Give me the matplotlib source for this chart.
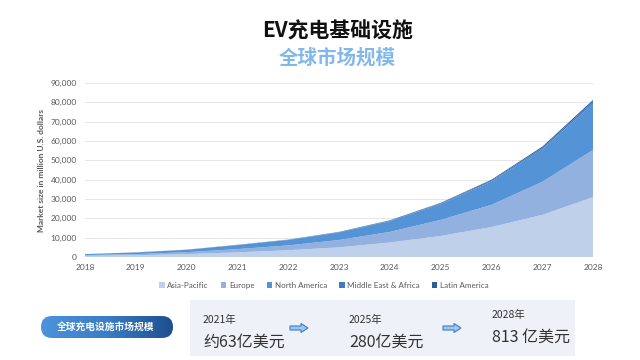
import matplotlib.pyplot as plt
import matplotlib.patches as mpatches
from matplotlib.patches import FancyBboxPatch
from matplotlib.colors import LinearSegmentedColormap
import numpy as np

plt.rcParams['font.family'] = ['Noto Sans CJK SC', 'DejaVu Sans']

# data (million USD)
years = [2018, 2019, 2020, 2021, 2022, 2023, 2024, 2025, 2026, 2027, 2028]
asia_pacific = [600, 900, 1500, 2400, 3500, 5000, 7500, 10900, 15500, 21800, 31000]
europe = [400, 600, 1000, 1700, 2500, 3800, 5500, 8300, 11500, 17100, 24400]
north_america = [465, 845, 1210, 2060, 2790, 3900, 5560, 8150, 12030, 16800, 24000]
middle_east_africa = [20, 30, 50, 80, 120, 170, 250, 370, 550, 800, 1100]
latin_america = [15, 25, 40, 60, 90, 130, 190, 280, 420, 600, 800]
region_names = ['Asia-Pacific', 'Europe', 'North America', 'Middle East & Africa', 'Latin America']
region_colors = ['#bfd0ea', '#93b1de', '#5393d6', '#3d7cc4', '#2b5d99']

yticks = np.arange(0, 90001, 10000)

summary_years = ['2021年', '2025年', '2028年']
summary_values = ['约63亿美元', '280亿美元', '813 亿美元']

fig = plt.figure(figsize=(6.4, 3.6), dpi=100)

# titles
fig.text(0.527, 0.915, 'EV充电基础设施', ha='center', va='center', fontsize=15,
         fontweight='bold', color='#111111')
fig.text(0.527, 0.84, '全球市场规模', ha='center', va='center', fontsize=14,
         fontweight='bold', color='#80b8ec')

ax = fig.add_axes([0.1328, 0.2861, 0.794, 0.4833])
ax.stackplot(years, asia_pacific, europe, north_america, middle_east_africa, latin_america,
             colors=region_colors, labels=region_names, linewidth=0)
ax.set_xlim(2018, 2028)
ax.set_ylim(0, 90000)
ax.set_xticks(years)
ax.set_yticks(yticks)
ax.set_yticklabels([f'{v:,}' for v in yticks])
ax.tick_params(axis='both', length=0, labelsize=6, colors='#595959')
for lab in ax.get_xticklabels() + ax.get_yticklabels():
    lab.set_family(['Lato', 'DejaVu Sans'])
ax.tick_params(axis='x', pad=5)
ax.tick_params(axis='y', pad=6)
ax.grid(axis='y', color='#e6e6e6', linewidth=0.7)
ax.set_axisbelow(True)
for s in ax.spines.values():
    s.set_visible(False)
ax.set_ylabel('Market size in million U.S. dollars', fontsize=6, fontweight='bold',
              color='#595959', family=['Lato', 'DejaVu Sans'], labelpad=4)

leg = ax.legend(loc='upper center', bbox_to_anchor=(0.47, -0.1), ncol=5, frameon=False,
                handlelength=0.7, handleheight=0.7, columnspacing=1.5,
                handletextpad=0.3, prop={'family': ['Lato', 'DejaVu Sans'], 'size': 5.8})
for t in leg.get_texts():
    t.set_color('#595959')

# bottom summary strip
ov = fig.add_axes([0, 0, 1, 1], zorder=5)
ov.set_xlim(0, 640)
ov.set_ylim(360, 0)
ov.axis('off')

ov.add_patch(mpatches.Rectangle((190, 300), 385, 56, facecolor='#eef2f8', edgecolor='none'))
pill = FancyBboxPatch((41, 316), 132, 22, boxstyle='round,pad=0,rounding_size=11',
                      facecolor='none', edgecolor='none')
ov.add_patch(pill)
pill_cmap = LinearSegmentedColormap.from_list('pill', ['#4c94dc', '#3a7cc6', '#1d4f8e'])
grad = ov.imshow(np.linspace(0, 1, 256).reshape(1, -1), cmap=pill_cmap, aspect='auto',
                 extent=(41, 173, 338, 316), interpolation='bicubic')
grad.set_clip_path(pill)
ov.set_xlim(0, 640)
ov.set_ylim(360, 0)
ov.text(106, 327, '全球充电设施市场规模', ha='center', va='center', fontsize=7,
        fontweight='bold', color='white')

xs = [203, 349, 492]
ys_small = [320, 320, 315]
ys_big = [342, 342, 337]
for x, ys, yb, yl, vl in zip(xs, ys_small, ys_big, summary_years, summary_values):
    ov.text(x, ys, yl, ha='left', va='center', fontsize=7.5, color='#333333')
    ov.text(x, yb, vl, ha='left', va='center', fontsize=11.5, color='#333333')

for ax0 in [290, 443]:
    ov.add_patch(mpatches.FancyArrow(ax0, 328, 11, 0, width=4, head_width=9, head_length=7,
                                     length_includes_head=False, facecolor='#9cc8ef',
                                     edgecolor='#3d7cc4', linewidth=0.8))

fig.savefig('out.png', dpi=100)
